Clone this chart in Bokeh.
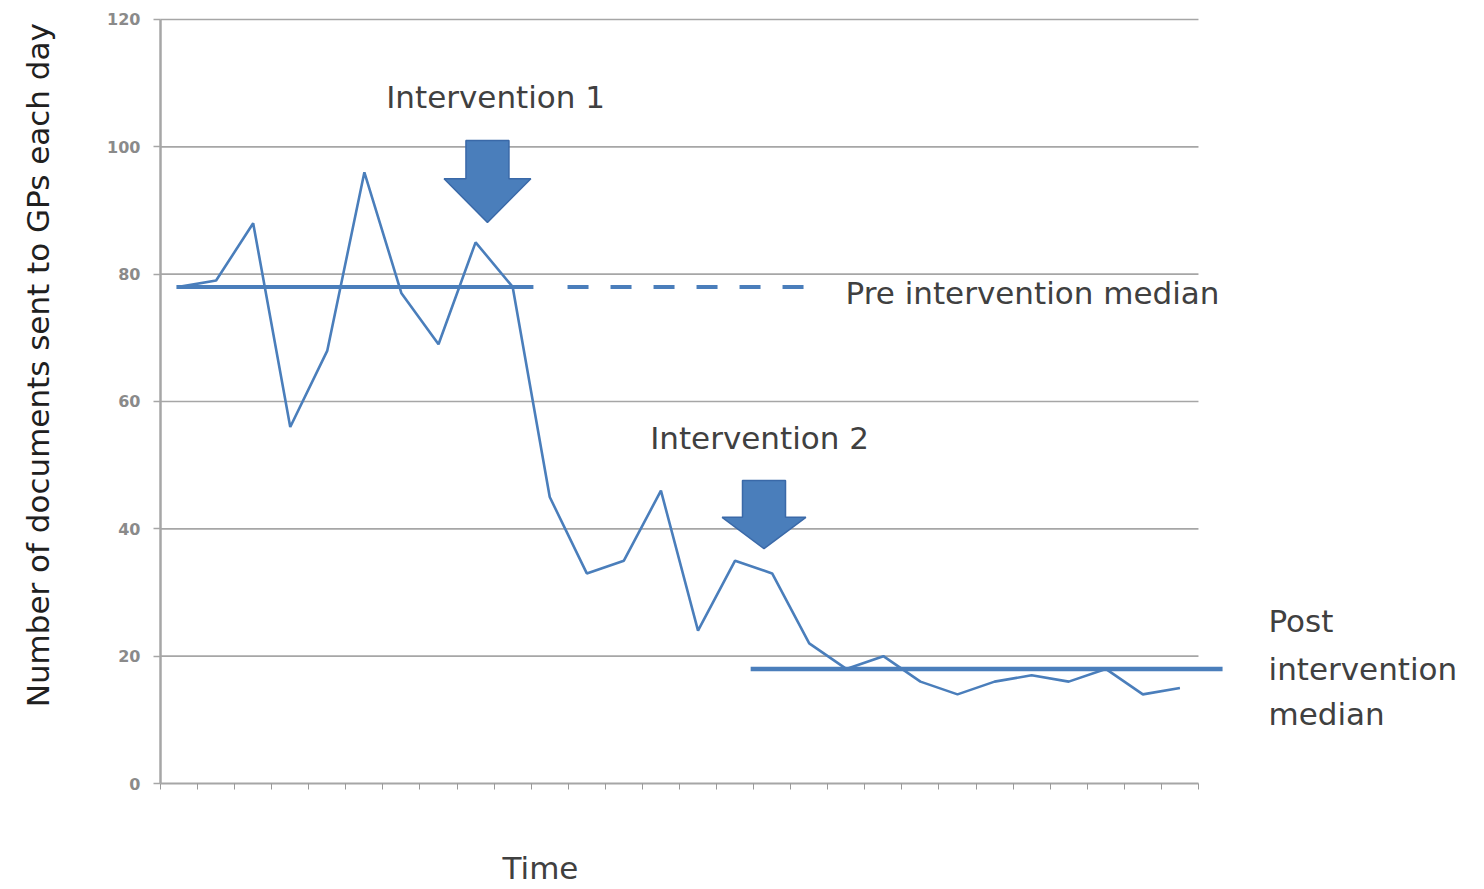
import math
from bokeh.plotting import figure
from bokeh.models import Range1d, FixedTicker, CustomJSTickFormatter
from bokeh.core.properties import value
from bokeh.embed import file_html
from bokeh.resources import INLINE

# ---- data ----
days = list(range(28))
documents = [78, 79, 88, 56, 68, 96, 77, 69, 85, 78,
             45, 33, 35, 46, 24, 35, 33, 22, 18, 20,
             16, 14, 16, 17, 16, 18, 14, 15]
y_ticks = [0, 20, 40, 60, 80, 100, 120]
pre_median = 78
post_median = 18
# median line extents (category units)
pre_solid = (0.43, 10.06)
pre_dashed = (10.98, 17.4)
post_extent = (15.92, 28.65)
# intervention arrows: centre x, top, head base, tip (value units)
arrow1 = dict(cx=8.82, top=101.0, base=95.0, tip=88.1, shaft=0.58, head=1.17)
arrow2 = dict(cx=16.28, top=47.6, base=41.8, tip=36.9, shaft=0.58, head=1.13)

BLUE = "#4a7ebb"
GRID = "#a6a6a6"
TEXT = "#404040"
FONT = "DejaVu Sans"

p = figure(width=1484, height=889, output_backend="svg", toolbar_location=None,
           x_range=Range1d(-4.316, 35.716), y_range=Range1d(-16.649, 122.984),
           min_border_left=0, min_border_right=0, min_border_top=0,
           min_border_bottom=0)
p.outline_line_color = None
p.xgrid.visible = False
p.ygrid.visible = False
p.background_fill_color = "white"

# gridlines (only across the 28 categories)
grid_vals = [v for v in y_ticks if v > 0]
p.segment(x0=[0] * len(grid_vals), x1=[28] * len(grid_vals), y0=grid_vals, y1=grid_vals,
          line_color=GRID, line_width=1.6)

# axes, fixed inside the frame
p.yaxis.fixed_location = 0
p.yaxis.bounds = (0, 120)
p.yaxis.ticker = FixedTicker(ticks=y_ticks)
p.yaxis.axis_line_color = GRID
p.yaxis.axis_line_width = 2.5
p.yaxis.major_tick_line_color = GRID
p.yaxis.major_tick_line_width = 1.5
p.yaxis.major_tick_out = 7
p.yaxis.major_tick_in = 0
p.yaxis.minor_tick_line_color = None
p.yaxis.major_label_standoff = 13
p.yaxis.major_label_text_font = FONT
p.yaxis.major_label_text_font_size = "16px"
p.yaxis.major_label_text_color = "#8a8a8a"
p.yaxis.major_label_text_font_style = "bold"

p.xaxis.fixed_location = 0
p.xaxis.ticker = FixedTicker(ticks=list(range(29)))
p.xaxis.bounds = (0, 28)
p.xaxis.axis_line_color = GRID
p.xaxis.axis_line_width = 2
p.xaxis.major_tick_line_color = "#999999"
p.xaxis.major_tick_out = 6
p.xaxis.major_tick_in = 0
p.xaxis.minor_tick_line_color = None
p.xaxis.formatter = CustomJSTickFormatter(code='return ""')

# data line
xs = [d + 0.5 for d in days]
p.line(xs, documents, line_color=BLUE, line_width=2.6)

# medians
p.line(list(pre_solid), [pre_median] * 2, line_color=BLUE, line_width=4)
p.line(list(pre_dashed), [pre_median] * 2, line_color=BLUE, line_width=4, line_dash="21 22")
p.line(list(post_extent), [post_median] * 2, line_color=BLUE, line_width=4.5)

# arrows
def arrow_pts(a):
    cx = a["cx"]
    xs_ = [cx - a["shaft"], cx + a["shaft"], cx + a["shaft"], cx + a["head"], cx,
           cx - a["head"], cx - a["shaft"]]
    ys_ = [a["top"], a["top"], a["base"], a["base"], a["tip"], a["base"], a["base"]]
    return xs_, ys_

for a in (arrow1, arrow2):
    ax, ay = arrow_pts(a)
    p.patch(ax, ay, fill_color=BLUE, line_color="#3a69a8", line_width=1.5)

# annotation texts
def add_text(x, y, t, align="center", angle=0.0, color=TEXT):
    p.text(x=[x], y=[y], text=[t], text_font=value(FONT), text_font_size="31px",
           text_color=color, text_align=align, text_baseline="middle", angle=angle)

add_text(9.04, 107.9, "Intervention 1")
add_text(16.16, 54.2, "Intervention 2")
add_text(18.48, 77.1, "Pre intervention median", align="left")
add_text(29.89, 25.6, "Post", align="left")
add_text(29.89, 18.06, "intervention", align="left")
add_text(29.89, 10.84, "median", align="left")

# axis titles
add_text(-3.3, 65.7, "Number of documents sent to GPs each day", angle=math.pi / 2,
         color="#202020")
add_text(10.25, -13.3, "Time")

open("out.html", "w").write(file_html(p, INLINE))
